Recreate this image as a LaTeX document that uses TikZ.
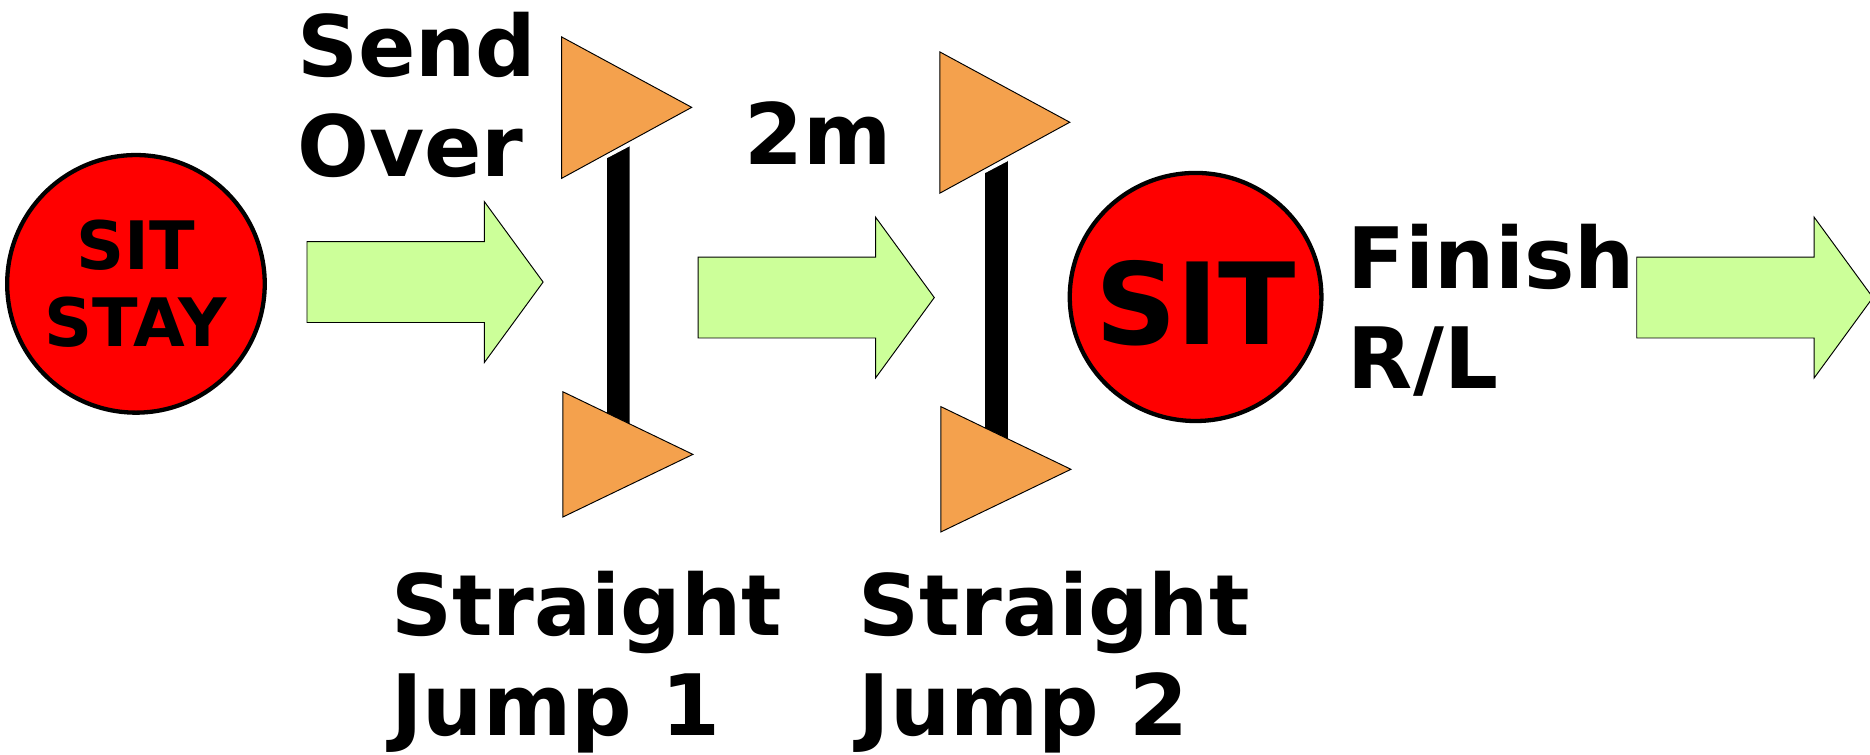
\documentclass[tikz,border=0pt]{standalone}
\usepackage{fontspec}
\setmainfont{DejaVu Sans}
\usetikzlibrary{shapes, shapes.geometric, shapes.arrows, positioning}
\definecolor{stopred}{RGB}{255,0,0}
\definecolor{gogreen}{RGB}{204,255,153}
\definecolor{conecol}{RGB}{244,161,77}
\tikzset{
    stopsign/.style={ellipse, draw=black, line width=3.6pt, fill=stopred, inner sep=0pt, align=center},
    goarrow/.style={single arrow, draw=black, line width=0.8pt, fill=gogreen, anchor=tail,
        minimum height=198pt, inner xsep=0pt, inner ysep=33.5pt,
        single arrow head extend=33.5pt, single arrow tip angle=107.7},
    cone/.style={draw=black, line width=0.8pt, fill=conecol},
    pole/.style={fill=black},
    cmd/.style={anchor=base west, align=left, inner sep=0pt, font=\bfseries\fontsize{71}{84}\selectfont}
}
\begin{document}
\begin{tikzpicture}[x=1pt, y=-1pt]
    \useasboundingbox (0,0) rectangle (1568,633);
    % start and end positions
    \node[stopsign, minimum width=210pt, minimum height=216pt,
        font=\bfseries\fontsize{56}{64}\selectfont] (stay) at (114,238) {SIT\\STAY};
    \node[stopsign, minimum width=211pt, minimum height=208pt,
        label={[inner sep=0pt, yshift=-5pt, font=\bfseries\fontsize{95}{95}\selectfont]
        center:SIT}] (sit) at (1002.5,249) {};
    % direction arrows
    \node[goarrow] (go1) at (257,236.5) {};
    \node[goarrow] (go2) at (585,249.5) {};
    \node[goarrow] (go3) at (1372,249.5) {};
    % jumps: pole with a cone at each end
    \foreach \dx/\dy in {0/0, 317/12.5}{
    \begin{scope}[xshift=\dx, yshift=-\dy]
    \fill[pole] (509,132) -- (528,122) -- (528,370) -- (509,370) -- cycle;
    \draw[white, line width=1pt] (509,132) -- (528,122);
    \draw[cone] (471,31) -- (580,90) -- (471,149.5) -- cycle;
    \draw[cone] (472,328.5) -- (581,381) -- (472,433.5) -- cycle;
    \end{scope}}
    % labels
    \node[cmd] (send) at (249,148) {Send\\Over};
    \node[cmd] (dist) at (624,138) {2m};
    \node[cmd] (finish) at (1130,326) {Finish\\R/L};
    \node[cmd] (jump1) at (328,617) {Straight\\Jump 1};
    \node[cmd] (jump2) at (720,617) {Straight\\Jump 2};
\end{tikzpicture}
\end{document}
